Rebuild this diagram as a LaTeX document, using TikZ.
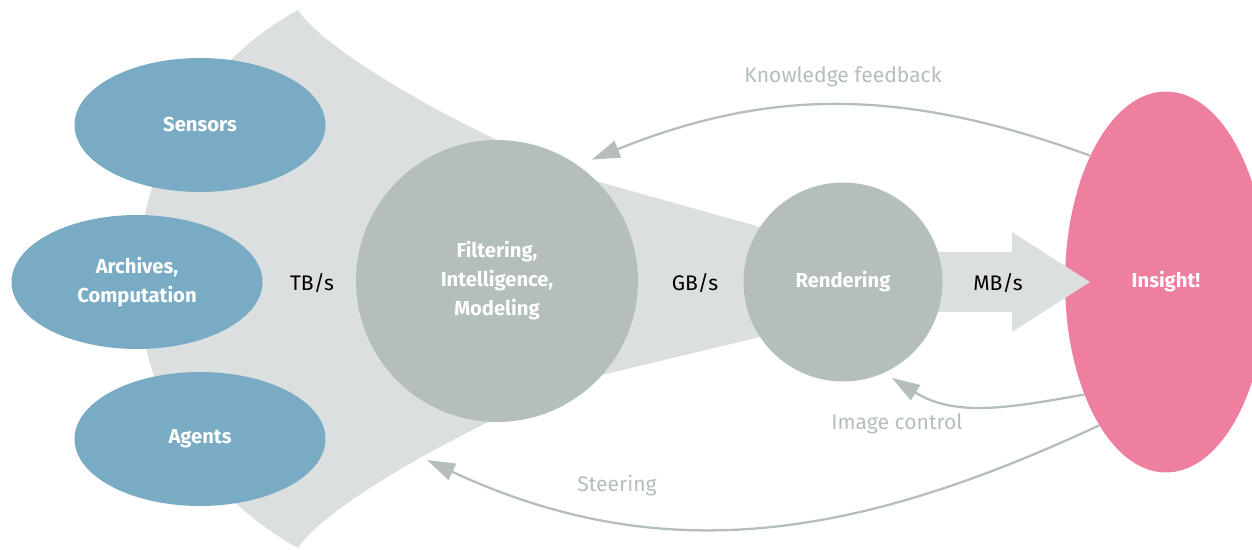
\documentclass[tikz,border=0pt]{standalone}
\usepackage{fontspec}
\setmainfont{Fira Sans}
\usetikzlibrary{arrows.meta,shapes.geometric}

\definecolor{srcblue}{HTML}{79ABC5}
\definecolor{stagegray}{HTML}{B4BEBC}
\definecolor{flowgray}{HTML}{DBDFE0}
\definecolor{insightpink}{HTML}{EE7F9F}

\begin{document}
\begin{tikzpicture}[x=0.02cm, y=-0.02cm,
  source/.style={ellipse, fill=srcblue, inner sep=0pt, minimum width=5.02cm,
    minimum height=2.68cm, text=white, align=center,
    font=\bfseries\fontsize{11.5}{16}\selectfont},
  stage/.style={circle, fill=stagegray, inner sep=0pt, text=white, align=center,
    font=\bfseries\fontsize{11.5}{16.5}\selectfont},
  rate/.style={font=\fontsize{12}{14}\selectfont},
  loop/.style={draw=stagegray, line width=1.3pt, -{Triangle[length=16pt,width=10pt]}},
  looplabel/.style={text=stagegray, font=\fontsize{12}{14}\selectfont}]
\useasboundingbox (0,0) rectangle (1252,550);
\clip (0,0) rectangle (1252,550);
% Data funnel
\fill[flowgray] (298,10) .. controls (200,64) and (138,167) .. (138,279)
  .. controls (138,391) and (200,494) .. (298,548)
  .. controls (330,498) and (520,398) .. (610,373)
  -- (760,337) -- (760,227) -- (610,185)
  .. controls (520,160) and (330,60) .. cycle;
% Insight
\node[ellipse, fill=insightpink, inner sep=0pt, minimum width=4.04cm, minimum height=7.62cm,
  text=white, font=\bfseries\fontsize{11.5}{16}\selectfont] (insight) at (1166,282) {Insight!};
% Output arrow
\fill[flowgray] (840,252) -- (1012,252) -- (1012,232) -- (1090,282)
  -- (1012,332) -- (1012,312) -- (840,312) -- cycle;
% Sources
\node[source] (sensors) at (200,125) {Sensors};
\node[source] (archives) at (137,282) {Archives,\\Computation};
\node[source] (agents) at (200,439) {Agents};
% Processing stages
\node[stage, minimum size=5.64cm, outer sep=0.26cm] (filter) at (497,281)
  {Filtering,\\Intelligence,\\Modeling};
\node[stage, minimum size=3.98cm, outer sep=0.16cm] (render) at (843,282) {Rendering};
% Data rates
\node[rate] (tbs) at (312,283) {TB/s};
\node[rate] (gbs) at (695,283) {GB/s};
\node[rate] (mbs) at (998,283) {MB/s};
% Feedback loops
\coordinate (steerin) at (427,460);
\draw[loop] (insight.121) to[out=160, in=22] (filter.52);
\draw[loop] (insight.234) to[out=190, in=-32] (render.297);
\draw[loop] (insight.245) to[out=205, in=-25] (steerin);
\node[looplabel] (kfb) at (843,77) {Knowledge feedback};
\node[looplabel] (imgctl) at (897,424) {Image control};
\node[looplabel] (steer) at (617,486) {Steering};
\end{tikzpicture}
\end{document}
